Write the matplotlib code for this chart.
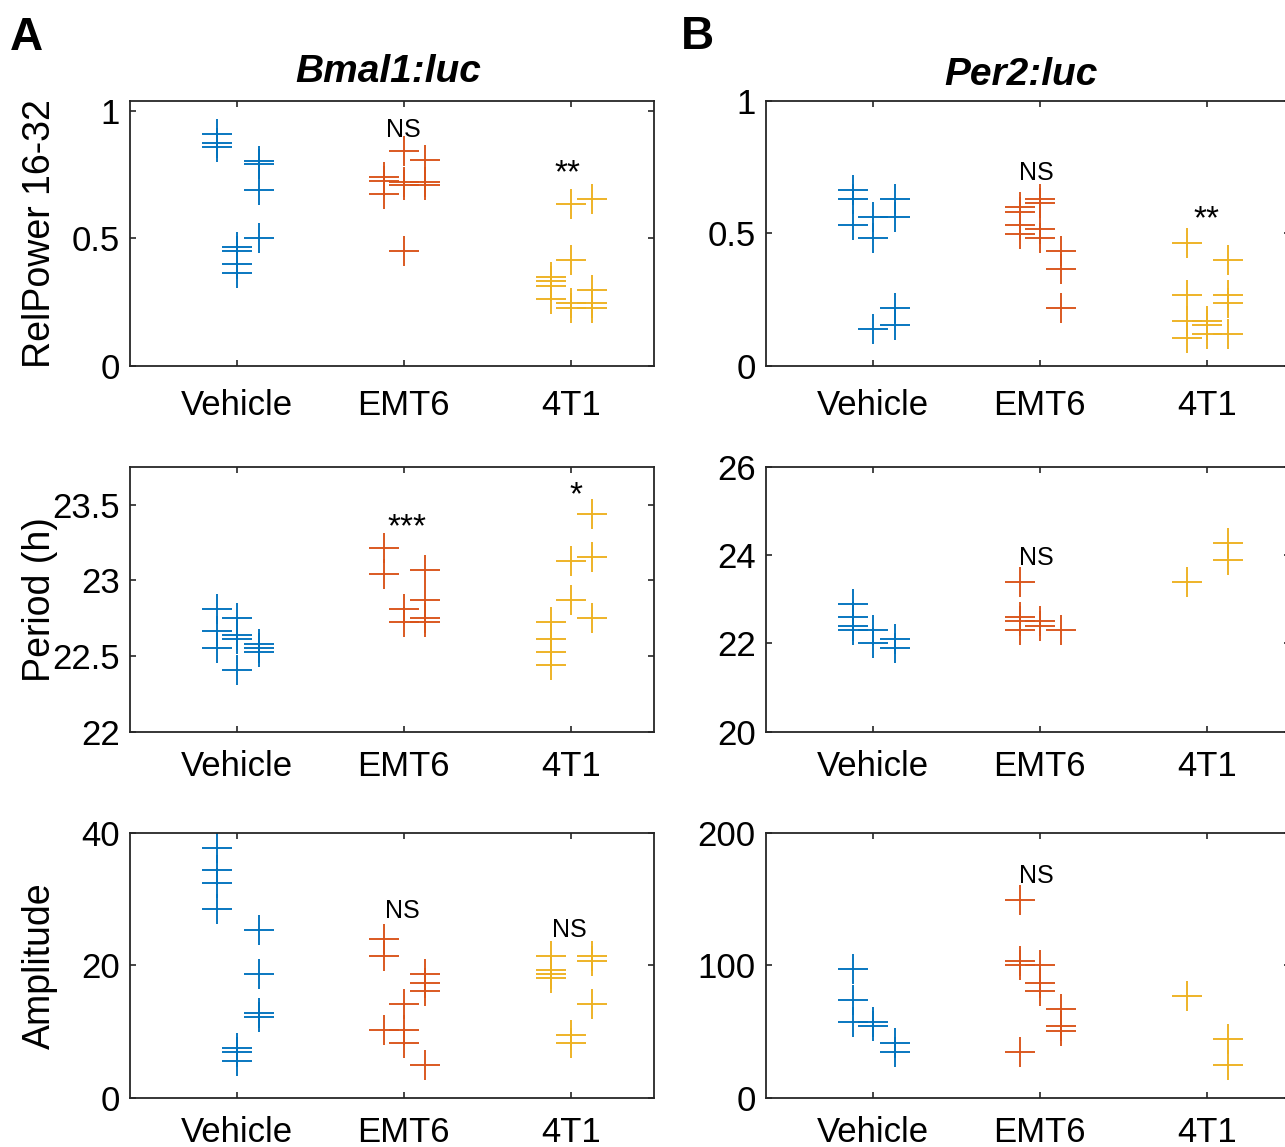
import matplotlib
matplotlib.use('Agg')
import matplotlib.pyplot as plt

plt.rcParams['font.family'] = ['Liberation Sans', 'DejaVu Sans']

groups = ['Vehicle', 'EMT6', '4T1']
colors = ['#0072BD', '#D95319', '#EDB120']
col_offsets = [-0.12, 0.0, 0.13]

# Bmal1:luc  (each group: three replicate columns)
bmal_relpower = [
    [[0.912, 0.874, 0.861], [0.467, 0.452, 0.399, 0.365], [0.805, 0.791, 0.690, 0.501]],
    [[0.740, 0.724, 0.673], [0.843, 0.720, 0.709, 0.449], [0.808, 0.720, 0.709]],
    [[0.349, 0.331, 0.314, 0.262], [0.637, 0.415, 0.245, 0.228], [0.654, 0.296, 0.245, 0.228]],
]
bmal_period = [
    [[22.809, 22.669, 22.553], [22.752, 22.638, 22.612, 22.410], [22.581, 22.553, 22.526]],
    [[23.213, 23.042], [22.809, 22.726], [23.068, 22.871, 22.752, 22.726]],
    [[22.726, 22.612, 22.526, 22.439], [23.127, 22.871], [23.441, 23.156, 22.752]],
]
bmal_amplitude = [
    [[37.78, 34.46, 32.49, 28.56], [7.46, 6.85, 5.54], [25.29, 18.69, 12.80, 12.19]],
    [[23.98, 21.36, 10.18], [14.11, 10.18, 8.21], [18.69, 17.38, 16.07, 4.89]],
    [[21.36, 19.35, 18.69, 18.04], [9.52, 8.21], [21.36, 20.71, 14.11]],
]

# Per2:luc
per2_relpower = [
    [[0.664, 0.630, 0.530], [0.563, 0.482, 0.137], [0.630, 0.563, 0.218, 0.152]],
    [[0.598, 0.582, 0.530, 0.499], [0.630, 0.613, 0.515, 0.484], [0.432, 0.366, 0.218]],
    [[0.465, 0.267, 0.170, 0.105], [0.170, 0.154, 0.121], [0.399, 0.267, 0.236, 0.121]],
]
per2_period = [
    [[22.90, 22.59, 22.40, 22.31], [22.31, 22.01], [22.11, 21.90]],
    [[23.39, 22.59, 22.50, 22.31], [22.50, 22.40], [22.31]],
    [[23.39], [], [24.28, 23.89]],
]
per2_amplitude = [
    [[96.98, 73.55, 57.18], [57.18, 53.9], [41.06, 34.5]],
    [[149.4, 103.0, 100.0, 34.3], [100.0, 86.9, 80.4], [67.3, 53.9, 50.6]],
    [[76.8], [], [44.1, 24.4]],
]

# significance labels: (text, x, y)
ann_bmal_rel = [('NS', 2.0, 0.897), ('**', 2.98, 0.722)]
ann_per2_rel = [('NS', 1.98, 0.701), ('**', 3.0, 0.518)]
ann_bmal_per = [('***', 2.02, 23.292), ('*', 3.03, 23.501)]
ann_per2_per = [('NS', 1.98, 23.78)]
ann_bmal_amp = [('NS', 1.99, 27.15), ('NS', 2.99, 24.28)]
ann_per2_amp = [('NS', 1.98, 162.5)]

W, H = 1285, 1147
fig = plt.figure(figsize=(W / 100, H / 100), dpi=100)

axw = 524.2 / W
axh = 264.7 / H
lefts = [130 / W, 766 / W]
bottoms = [1 - 365.7 / H, 1 - 731.7 / H, 1 - 1097.7 / H]
xpads = [17.0, 13.0, 13.5]

panels = [
    [(bmal_relpower, (0, 1.04), [0, 0.5, 1], ['0', '0.5', '1'], 'RelPower 16-32', ann_bmal_rel),
     (per2_relpower, (0, 1), [0, 0.5, 1], ['0', '0.5', '1'], None, ann_per2_rel)],
    [(bmal_period, (22, 23.75), [22, 22.5, 23, 23.5], ['22', '22.5', '23', '23.5'], 'Period (h)', ann_bmal_per),
     (per2_period, (20, 26), [20, 22, 24, 26], ['20', '22', '24', '26'], None, ann_per2_per)],
    [(bmal_amplitude, (0, 40), [0, 20, 40], ['0', '20', '40'], 'Amplitude', ann_bmal_amp),
     (per2_amplitude, (0, 200), [0, 100, 200], ['0', '100', '200'], None, ann_per2_amp)],
]

axes = {}
for r in range(3):
    for c in range(2):
        data, ylim, yt, ytl, ylab, anns = panels[r][c]
        ax = fig.add_axes([lefts[c], bottoms[r], axw, axh])
        axes[(r, c)] = ax
        for g, gcols in enumerate(data):
            for k, vals in enumerate(gcols):
                if len(vals) == 0:
                    continue
                ax.plot([g + 1 + col_offsets[k]] * len(vals), vals, linestyle='none',
                        marker='+', markersize=21.6, markeredgewidth=1.35,
                        color=colors[g])
        ax.set_xlim(0.36, 3.5)
        ax.set_ylim(*ylim)
        ax.set_xticks([1, 2, 3])
        ax.set_xticklabels(groups)
        ax.set_yticks(yt)
        ax.set_yticklabels(ytl)
        ax.tick_params(axis='both', direction='in', top=True, right=True,
                       length=4.5, width=1.2, colors='#262626', labelcolor='black',
                       labelsize=25)
        ax.tick_params(axis='x', pad=xpads[r])
        ax.tick_params(axis='y', pad=7.5)
        for sp in ax.spines.values():
            sp.set_linewidth(1.3)
            sp.set_color('#262626')
        for txt, x, y in anns:
            fs = 24 if txt.startswith('*') else 18
            ax.text(x, y, txt, ha='center', va='baseline', fontsize=fs, color='black')
        if ylab:
            ax.text(-0.172, 0.5, ylab, rotation=90, ha='center', va='center',
                    transform=ax.transAxes, fontsize=27)

axes[(0, 0)].text(0.492, 1.072, 'Bmal1:luc', transform=axes[(0, 0)].transAxes,
                  ha='center', va='baseline', fontsize=28, fontweight='bold', fontstyle='italic')
axes[(0, 1)].text(0.486, 1.060, 'Per2:luc', transform=axes[(0, 1)].transAxes,
                  ha='center', va='baseline', fontsize=28, fontweight='bold', fontstyle='italic')

fig.text(10 / W, 1 - 50 / H, 'A', fontsize=33, fontweight='bold', ha='left', va='baseline')
fig.text(681 / W, 1 - 49 / H, 'B', fontsize=33, fontweight='bold', ha='left', va='baseline')

fig.savefig('out.png', dpi=100)
